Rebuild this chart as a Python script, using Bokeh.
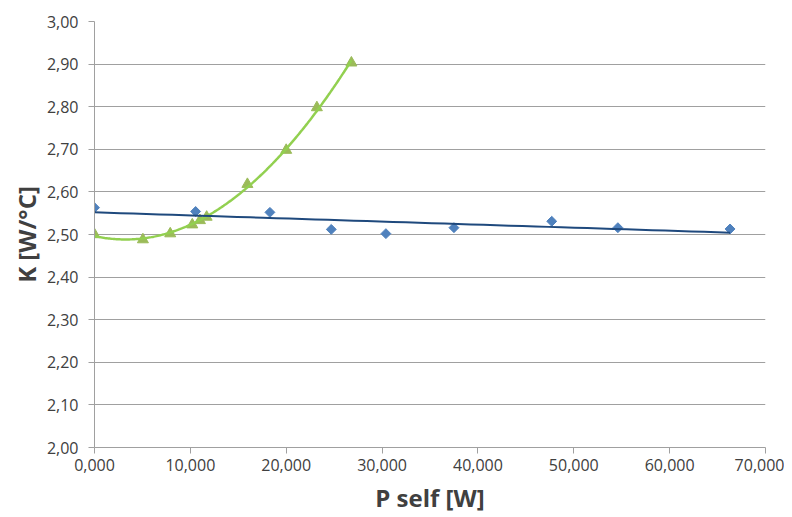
import numpy as np
from bokeh.plotting import figure
from bokeh.models import FixedTicker, Range1d
from bokeh.embed import file_html
from bokeh.resources import INLINE

# ---- data (x in axis units: 10 -> "10,000") ----
blue_x = [0.0, 10.55, 18.3, 24.7, 30.4, 37.5, 47.7, 54.6, 66.3]
blue_y = [2.563, 2.554, 2.552, 2.512, 2.502, 2.516, 2.531, 2.516, 2.513]

green_x = [0.0, 5.05, 7.9, 10.2, 11.0, 11.7, 15.95, 20.0, 23.2, 26.8]
green_y = [2.500, 2.488, 2.502, 2.523, 2.533, 2.541, 2.618, 2.698, 2.798, 2.903]

x_ticks = [0, 10, 20, 30, 40, 50, 60, 70]
x_tick_labels = ["0,000", "10,000", "20,000", "30,000", "40,000", "50,000", "60,000", "70,000"]
y_ticks = [2.0, 2.1, 2.2, 2.3, 2.4, 2.5, 2.6, 2.7, 2.8, 2.9, 3.0]
y_tick_labels = ["2,00", "2,10", "2,20", "2,30", "2,40", "2,50", "2,60", "2,70", "2,80", "2,90", "3,00"]

x_title = "P self [W]"
y_title = "K [W/°C]"

FONT = "Open Sans"
TXT = "#404040"
GRID = "#a0a0a0"

p = figure(width=784, height=516, output_backend="svg", toolbar_location=None,
           x_range=Range1d(0, 70), y_range=Range1d(2.0, 3.0),
           min_border_left=94, min_border_right=19, min_border_top=21, min_border_bottom=60)
p.outline_line_color = None
p.background_fill_color = "white"
p.border_fill_color = "white"

# grid
p.xgrid.grid_line_color = None
p.ygrid.grid_line_color = GRID
p.ygrid.grid_line_width = 1

for ax, ticks, labels in ((p.xaxis[0], x_ticks, x_tick_labels), (p.yaxis[0], y_ticks, y_tick_labels)):
    ax.ticker = FixedTicker(ticks=ticks)
    ax.major_label_overrides = {t: l for t, l in zip(ticks, labels)}
    ax.minor_tick_line_color = None
    ax.major_tick_in = 0
    ax.major_tick_out = 6
    ax.major_tick_line_color = GRID
    ax.axis_line_color = GRID
    ax.major_label_text_font = FONT
    ax.major_label_text_font_size = "16px"
    ax.major_label_text_color = TXT
    ax.axis_label_text_font = FONT
    ax.axis_label_text_font_style = "bold"
    ax.axis_label_text_font_size = "24px"
    ax.axis_label_text_color = TXT

p.xaxis.axis_label = x_title
p.yaxis.axis_label = y_title
p.xaxis.major_label_standoff = 5
p.xaxis.axis_label_standoff = 7
p.yaxis.major_label_standoff = 10
p.yaxis.axis_label_standoff = 1

# trend lines computed from the data
bx = np.array(blue_x); by = np.array(blue_y)
bc = np.polyfit(bx, by, 1)
bxx = np.linspace(bx.min(), bx.max(), 50)
gx = np.array(green_x); gy = np.array(green_y)
gc = np.polyfit(gx, gy, 2)
gxx = np.linspace(gx.min(), gx.max(), 200)

p.scatter(blue_x, blue_y, marker="square", angle=np.pi / 4, size=7,
          fill_color="#4f81bd", line_color="#4f81bd")
p.scatter(green_x, green_y, marker="triangle", size=11,
          fill_color="#9bbb59", line_color="#9bbb59")
p.line(gxx, np.polyval(gc, gxx), line_color="#92d050", line_width=2.5)
p.line(bxx, np.polyval(bc, bxx), line_color="#1f497d", line_width=2)

open("out.html", "w").write(file_html(p, INLINE))
